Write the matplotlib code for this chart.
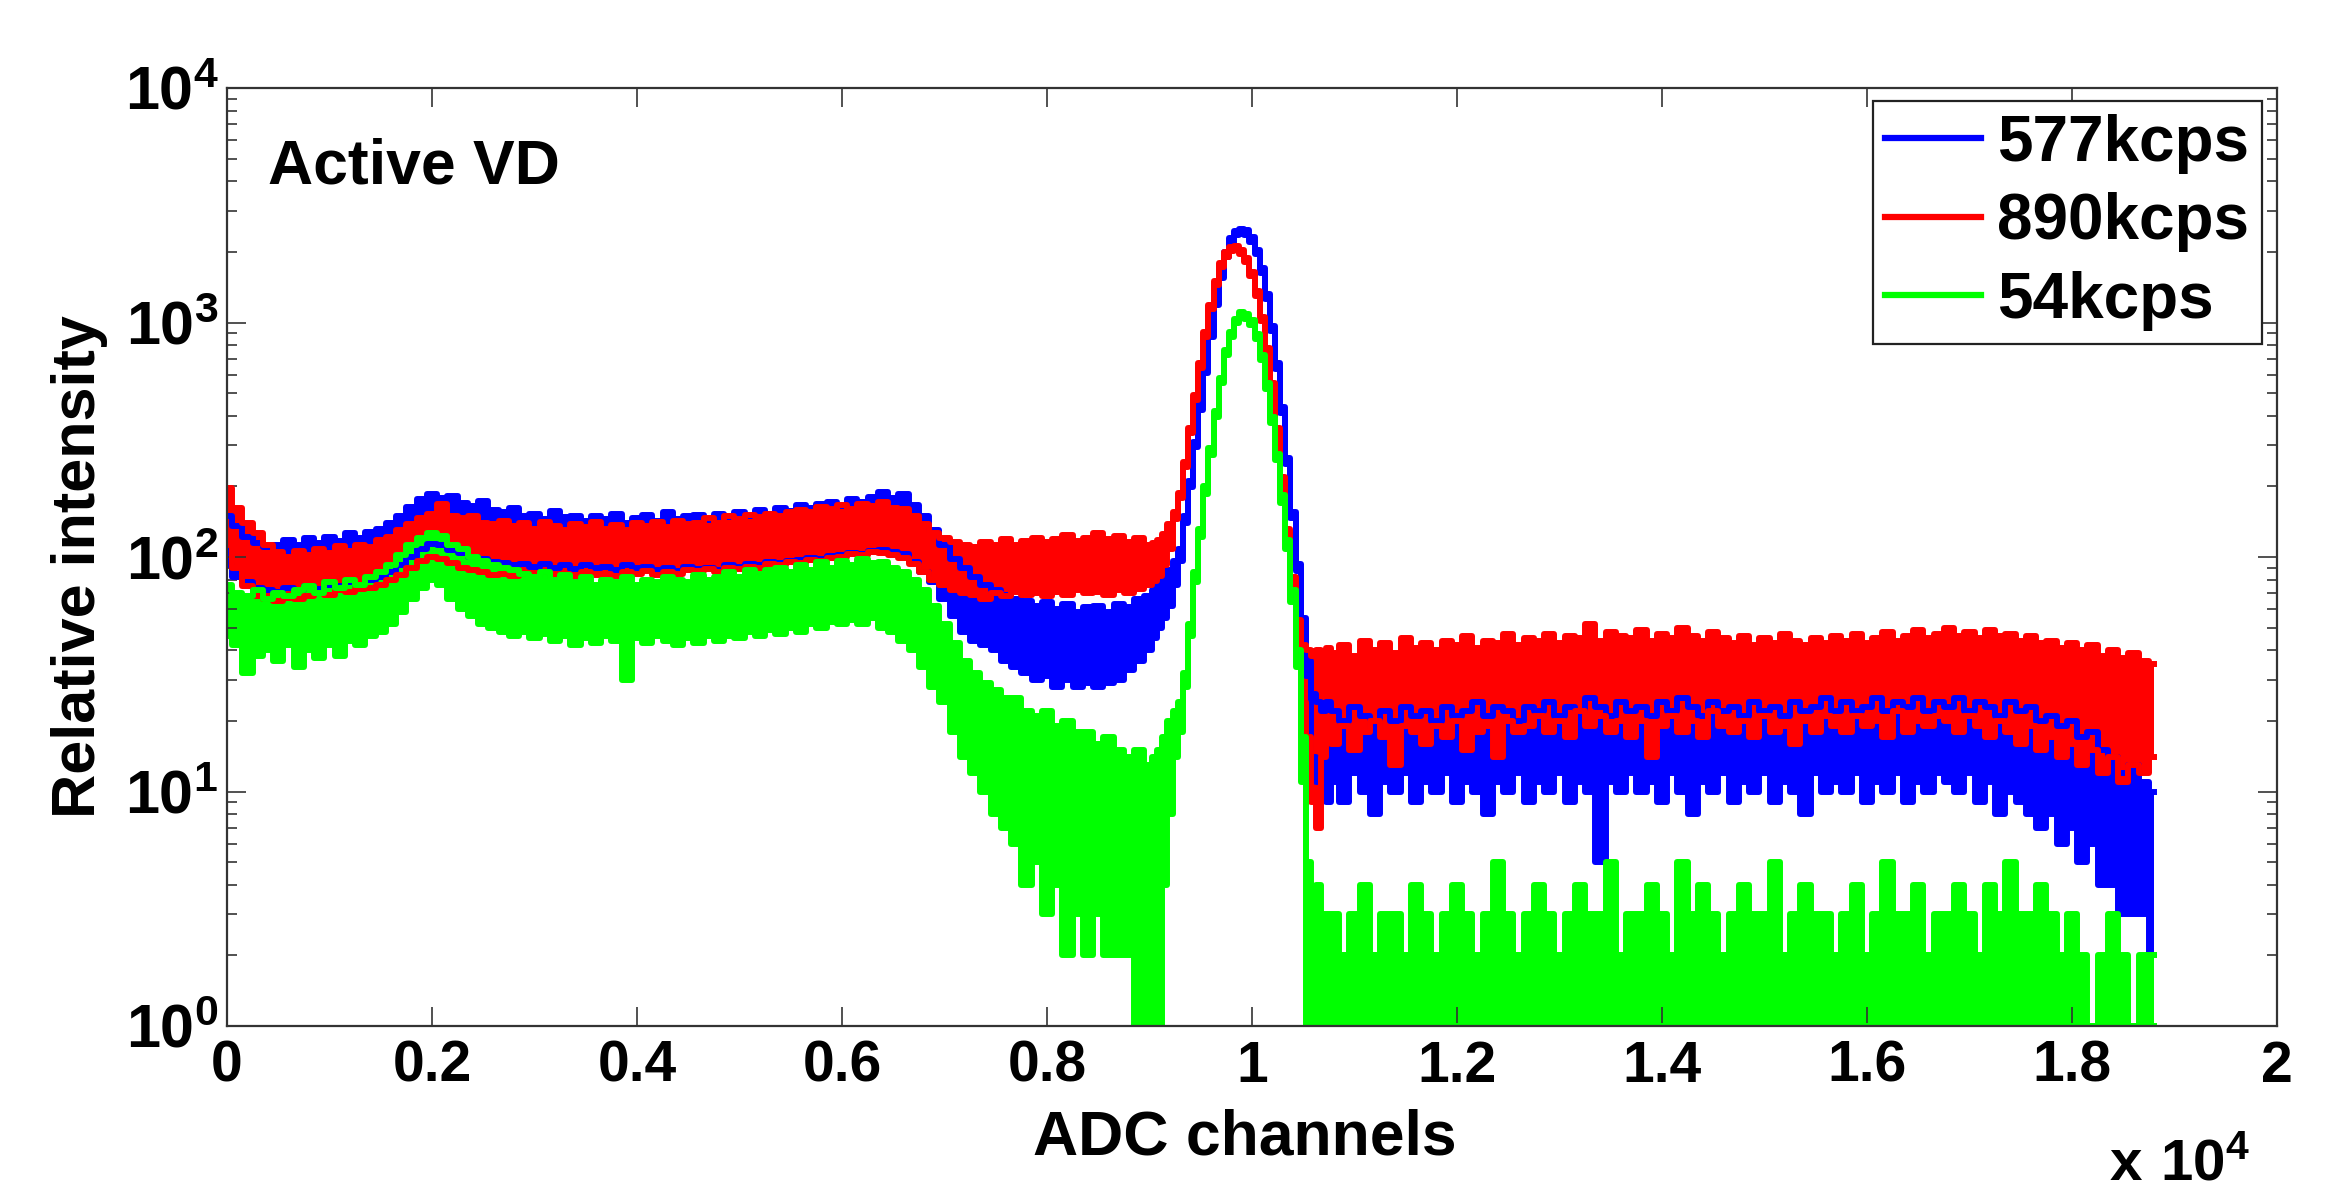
import numpy as np
import matplotlib
matplotlib.use("Agg")
import matplotlib.pyplot as plt
from matplotlib.lines import Line2D
from matplotlib.ticker import LogLocator, NullFormatter

plt.rcParams['font.family'] = ['Liberation Sans', 'DejaVu Sans']
plt.rcParams['mathtext.fontset'] = 'custom'
plt.rcParams['mathtext.rm'] = 'Liberation Sans'
plt.rcParams['mathtext.bf'] = 'Liberation Sans:bold'

# ---------------- data ----------------
# ADC channel grid: 100-channel bins, 50-channel bins across the main peak
channels = np.concatenate([np.arange(0, 9000, 100),
                           np.arange(9000, 10800, 50),
                           np.arange(10800, 18900, 100)])

series_labels = ['577kcps', '890kcps', '54kcps']
series_colors = ['#0000ff', '#ff0000', '#00ff00']

# --- 577 kcps (blue): upper / lower envelope of the noisy spectrum
blue_hi = [150, 135, 122, 115, 110, 113, 118, 112, 120, 115,
           122, 117, 126, 120, 128, 132, 140, 150, 163, 176,
           186, 178, 182, 170, 165, 173, 158, 156, 162, 150,
           153, 145, 157, 148, 150, 142, 149, 145, 153, 140,
           147, 151, 142, 156, 145, 149, 151, 144, 153, 148,
           156, 150, 159, 152, 161, 157, 166, 162, 169, 171,
           165, 176, 172, 181, 190, 178, 186, 166, 150, 130,
           112, 98, 90, 82, 76, 72, 69, 66, 65, 62,
           64, 60, 63, 58, 61, 62, 58, 63, 61, 66] + \
          [68, 72, 78, 82, 88, 96, 108, 150, 210, 310,
           445, 640, 910, 1240, 1620, 2000, 2290, 2450, 2500, 2470,
           2310, 2040, 1700, 1320, 970, 670, 435, 265, 155, 93,
           55, 36, 26, 24, 22, 24] + \
          [22, 20, 23, 21, 19, 22, 20, 23, 21, 22,
           20, 23, 21, 22, 24, 21, 23, 22, 20, 23,
           22, 24, 21, 23, 22, 25, 23, 21, 24, 22,
           23, 21, 24, 22, 25, 23, 21, 24, 22, 23,
           21, 24, 22, 23, 21, 24, 22, 23, 25, 22,
           24, 22, 23, 25, 22, 24, 23, 25, 22, 24,
           23, 25, 22, 24, 23, 21, 24, 22, 23, 20,
           21, 19, 20, 17, 18, 15, 14, 12, 13, 11,
           10]
blue_lo = [92, 82, 78, 74, 72, 71, 74, 72, 75, 73,
           76, 75, 78, 76, 80, 82, 86, 92, 100, 108,
           114, 112, 107, 104, 100, 98, 95, 94, 92, 93,
           91, 93, 90, 92, 89, 92, 90, 91, 88, 92,
           90, 91, 88, 90, 87, 91, 89, 90, 88, 92,
           91, 93, 92, 95, 94, 96, 97, 99, 98, 101,
           102, 104, 103, 106, 107, 105, 103, 95, 86, 78,
           66, 56, 48, 44, 42, 40, 36, 34, 32, 30,
           31, 28, 30, 28, 29, 28, 29, 30, 33, 36] + \
          [40, 45, 50, 55, 62, 76, 96, 140, 198, 295,
           425, 612, 870, 1185, 1550, 1910, 2190, 2350, 2400, 2370,
           2210, 1950, 1620, 1260, 920, 635, 412, 250, 146, 87,
           50, 31, 14, 11, 12, 9] + \
          [11, 9, 12, 10, 8, 11, 10, 12, 9, 11,
           10, 12, 9, 11, 10, 8, 11, 10, 12, 9,
           11, 10, 12, 9, 11, 10, 5, 11, 10, 12,
           10, 11, 9, 12, 10, 8, 11, 10, 12, 9,
           11, 10, 12, 9, 11, 10, 8, 12, 10, 11,
           10, 12, 9, 11, 10, 12, 9, 11, 10, 12,
           11, 10, 12, 9, 11, 8, 10, 9, 8, 7,
           8, 6, 7, 5, 6, 4, 4, 3, 3, 3,
           2]

# --- 890 kcps (red)
red_hi = [196, 162, 140, 126, 112, 105, 100, 106, 102, 108,
          104, 111, 106, 113, 110, 118, 122, 130, 138, 146,
          152, 168, 150, 146, 149, 140, 138, 143, 135, 139,
          132, 141, 136, 130, 138, 134, 141, 132, 137, 130,
          139, 135, 141, 134, 143, 138, 140, 146, 140, 149,
          145, 151, 148, 153, 150, 156, 159, 155, 163, 160,
          166, 160, 169, 165, 171, 162, 160, 150, 138, 126,
          121, 116, 113, 110, 116, 113, 119, 113, 117, 121,
          116, 119, 124, 117, 121, 126, 119, 123, 116, 120] + \
         [112, 115, 118, 125, 138, 155, 188, 255, 355, 490,
          670, 910, 1190, 1510, 1790, 1990, 2090, 2110, 2030, 1880,
          1650, 1360, 1060, 780, 550, 355, 220, 132, 82, 54,
          42, 40, 38, 40, 37, 41] + \
         [39, 42, 38, 44, 40, 43, 39, 45, 41, 43,
          40, 44, 42, 46, 41, 44, 43, 47, 42, 45,
          44, 47, 43, 46, 45, 52, 44, 48, 46, 45,
          49, 44, 47, 45, 50, 46, 44, 48, 45, 43,
          46, 42, 45, 43, 47, 44, 42, 45, 43, 46,
          44, 47, 43, 45, 48, 44, 46, 49, 45, 47,
          50, 46, 48, 45, 49, 46, 47, 44, 46, 43,
          44, 41, 43, 40, 42, 38, 40, 37, 39, 36,
          35]
red_lo = [112, 90, 75, 68, 66, 65, 67, 66, 68, 70,
          69, 72, 71, 73, 74, 76, 80, 84, 90, 96,
          100, 98, 94, 90, 88, 86, 84, 85, 83, 85,
          84, 86, 83, 85, 82, 86, 84, 85, 83, 86,
          85, 87, 84, 86, 85, 88, 87, 89, 86, 90,
          89, 91, 90, 93, 92, 95, 94, 97, 96, 99,
          100, 103, 102, 105, 104, 102, 99, 93, 86, 80,
          76, 72, 70, 69, 66, 70, 68, 71, 69, 70,
          68, 71, 69, 72, 70, 71, 69, 72, 70, 73] + \
         [76, 79, 83, 92, 108, 145, 178, 242, 338, 468,
          640, 870, 1140, 1450, 1720, 1910, 2010, 2030, 1950, 1810,
          1580, 1300, 1010, 745, 525, 338, 210, 125, 77, 50,
          24, 17, 9, 7, 14, 18] + \
         [16, 19, 15, 18, 20, 17, 13, 19, 18, 16,
          19, 17, 20, 15, 18, 19, 14, 20, 18, 19,
          21, 18, 20, 17, 22, 19, 21, 18, 20, 17,
          20, 14, 19, 21, 18, 20, 17, 22, 19, 18,
          20, 17, 21, 18, 19, 16, 20, 18, 21, 19,
          18, 21, 19, 20, 17, 22, 18, 20, 19, 21,
          20, 18, 21, 19, 17, 20, 18, 16, 19, 15,
          17, 14, 16, 13, 15, 12, 14, 11, 13, 12,
          14]

# --- 54 kcps (green)
green_hi = [76, 70, 68, 72, 66, 70, 68, 72, 75, 70,
            78, 74, 80, 76, 82, 86, 92, 102, 112, 121,
            126, 123, 112, 108, 100, 96, 92, 90, 88, 85,
            82, 86, 80, 84, 78, 82, 76, 80, 78, 82,
            76, 80, 78, 82, 80, 78, 84, 80, 82, 86,
            82, 88, 85, 88, 90, 86, 92, 88, 95, 90,
            96, 92, 98, 94, 95, 90, 86, 80, 72, 62,
            52, 43, 36, 32, 29, 27, 25, 25, 22, 21,
            22, 19, 20, 18, 18, 16, 17, 15, 14, 15] + \
           [13, 14, 15, 17, 20, 22, 24, 32, 52, 86,
            132, 200, 292, 420, 580, 760, 910, 1040, 1110, 1090,
            1020, 890, 730, 550, 395, 275, 183, 118, 72, 40,
            17, 5, 3, 4, 3, 3] + \
           [3, 2, 3, 4, 2, 3, 3, 2, 4, 3,
            2, 3, 4, 3, 2, 3, 5, 3, 2, 3,
            4, 3, 2, 3, 4, 3, 3, 5, 2, 3,
            3, 4, 3, 2, 5, 3, 4, 3, 2, 3,
            4, 3, 3, 5, 2, 3, 4, 3, 3, 2,
            3, 4, 2, 3, 5, 3, 3, 4, 2, 3,
            3, 4, 3, 2, 4, 3, 5, 3, 3, 4,
            3, 2, 3, 2, 1, 2, 3, 2, 1, 2,
            2]
green_lo = [46, 42, 32, 38, 40, 36, 42, 34, 40, 37,
            42, 38, 44, 42, 46, 48, 52, 58, 66, 74,
            80, 76, 66, 60, 56, 52, 50, 48, 46, 48,
            45, 47, 44, 46, 42, 45, 43, 46, 44, 30,
            45, 43, 46, 44, 42, 45, 43, 46, 44, 46,
            45, 48, 46, 49, 47, 50, 48, 52, 50, 53,
            52, 54, 52, 55, 50, 48, 44, 40, 34, 28,
            24, 18, 14, 12, 10, 8, 7, 6, 4, 5,
            3, 4, 2, 3, 2, 3, 2, 2, 2, 1] + \
           [1, 1, 1, 4, 8, 14, 18, 28, 46, 78,
            122, 186, 272, 395, 550, 725, 870, 1000, 1060, 1040,
            975, 850, 695, 520, 372, 258, 170, 108, 64, 34,
            11, 1, 1, 1, 1, 1] + \
           [1, 1, 1, 1, 1, 1, 1, 1, 1, 1,
            1, 1, 1, 1, 1, 1, 1, 1, 1, 1,
            1, 1, 1, 1, 1, 1, 1, 1, 1, 1,
            1, 1, 1, 1, 1, 1, 1, 1, 1, 1,
            1, 1, 1, 1, 1, 1, 1, 1, 1, 1,
            1, 1, 1, 1, 1, 1, 1, 1, 1, 1,
            1, 1, 1, 1, 1, 1, 1, 1, 1, 1,
            1, 1, 1, 1, 1, 1, 1, 1, 1, 1,
            1]

x_tick_values = [0, 2000, 4000, 6000, 8000, 10000, 12000, 14000, 16000, 18000, 20000]
x_tick_labels = ['0', '0.2', '0.4', '0.6', '0.8', '1', '1.2', '1.4', '1.6', '1.8', '2']
y_tick_values = [1, 10, 100, 1000, 10000]
y_tick_labels = [r'$\mathbf{10^{0}}$', r'$\mathbf{10^{1}}$', r'$\mathbf{10^{2}}$',
                 r'$\mathbf{10^{3}}$', r'$\mathbf{10^{4}}$']

# ---------------- figure ----------------
W, H = 2339, 1187
fig = plt.figure(figsize=(W / 100, H / 100), dpi=100)
ax = fig.add_axes([227 / W, 1 - 1026 / H, 2050 / W, 938 / H])

envelopes = [(blue_hi, blue_lo), (red_hi, red_lo), (green_hi, green_lo)]
for (hi, lo), color in zip(envelopes, series_colors):
    hi = np.asarray(hi, float)
    lo = np.asarray(lo, float)
    assert len(hi) == len(channels) and len(lo) == len(channels)
    ax.fill_between(channels, lo, hi, step='mid', color=color, lw=0)
    ax.step(channels, hi, where='mid', color=color, lw=4.3)
    ax.step(channels, lo, where='mid', color=color, lw=4.3)

ax.set_yscale('log')
ax.set_xlim(0, 20000)
ax.set_ylim(1, 10000)

ax.set_xticks(x_tick_values)
ax.set_xticklabels(x_tick_labels, fontsize=41, fontweight='bold')
ax.set_yticks(y_tick_values)
ax.set_yticklabels(y_tick_labels, fontsize=44)
ax.yaxis.set_minor_locator(LogLocator(base=10, subs=np.arange(2, 10)))
ax.yaxis.set_minor_formatter(NullFormatter())

ax.tick_params(which='both', direction='in', top=True, right=True, color='#333333')
ax.tick_params(which='major', length=14, width=1.2)
ax.tick_params(which='minor', length=7, width=1.2)
ax.tick_params(axis='x', pad=10)
ax.tick_params(axis='y', pad=6)
for sp in ax.spines.values():
    sp.set_linewidth(1.6)
    sp.set_color('#333333')

ax.set_xlabel('ADC channels', fontsize=45, fontweight='bold')
ax.xaxis.label.set_va('center')
ax.xaxis.set_label_coords((1245 - 227) / 2050, (1026 - 1138) / 938)
ax.set_ylabel('Relative intensity', fontsize=44, fontweight='bold')
ax.yaxis.label.set_va('center')
ax.yaxis.set_label_coords((80 - 227) / 2050, (1026 - 567) / 938)

fig.text(2250 / W, 1 - 1179 / H, r'$\mathbf{x\ 10^{4}}$', fontsize=42,
         ha='right', va='baseline')

ax.text(0.02, 0.916, 'Active VD', transform=ax.transAxes, fontsize=45,
        fontweight='bold', ha='left', va='center')

handles = [Line2D([0], [0], color=c, lw=4.5) for c in series_colors]
leg = ax.legend(handles, series_labels, loc='upper right',
                bbox_to_anchor=((2262 - 227) / 2050, 1 - (101 - 88) / 938),
                borderaxespad=0, prop={'size': 46, 'weight': 'bold'},
                handlelength=1.5, handletextpad=0.25, borderpad=0.2,
                labelspacing=0.29, fancybox=False, framealpha=1,
                edgecolor='#222222')
leg.get_frame().set_linewidth(1.6)

fig.savefig('out.png', dpi=100)
